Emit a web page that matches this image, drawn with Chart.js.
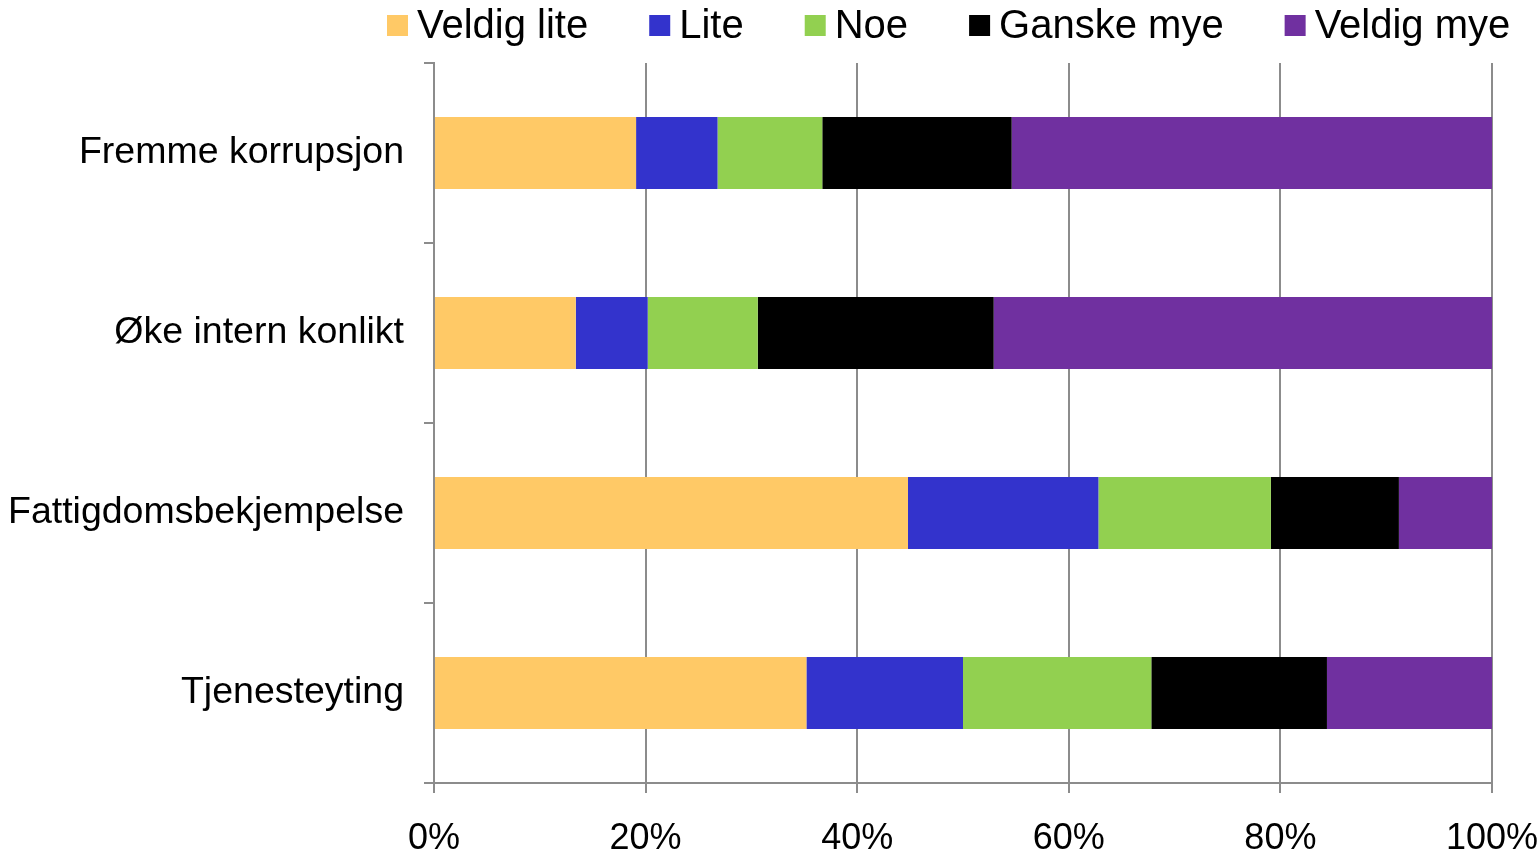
<!DOCTYPE html>
<html lang="no">
  <head>
    <meta charset="UTF-8" />
    <title>Stablet stolpediagram</title>
    <script src="https://cdn.jsdelivr.net/npm/chart.js"></script>
    <style>
      html, body { margin: 0; padding: 0; background: #ffffff; overflow: hidden; }
      #wrap { width: 1540px; height: 858px; position: relative; }
    </style>
  </head>
  <body>
    <div id="wrap"><canvas id="chart" width="1540" height="858"></canvas></div>
    <script>
      // data (percent of respondents)
      const categories = ["Fremme korrupsjon", "Øke intern konlikt", "Fattigdomsbekjempelse", "Tjenesteyting"];
      const seriesNames = ["Veldig lite", "Lite", "Noe", "Ganske mye", "Veldig mye"];
      const veldigLite = [19.1, 13.4, 44.8, 35.2];
      const lite = [7.7, 6.8, 18.0, 14.8];
      const noe = [9.9, 10.4, 16.3, 17.8];
      const ganskeMye = [17.9, 22.3, 12.1, 16.6];
      const veldigMye = [45.4, 47.1, 8.8, 15.6];
      const xTicks = [0, 20, 40, 60, 80, 100];

      const colors = ["#FFC966", "#3333CC", "#92D050", "#000000", "#7030A0"];
      const FONT = "'Liberation Sans', Arial, sans-serif";
      const GRID = "#8c8c8c";

      const values = [veldigLite, lite, noe, ganskeMye, veldigMye];

      // legend drawn by hand, spaced like the original
      const topLegend = {
        id: "topLegend",
        afterDraw(chart) {
          const ctx = chart.ctx;
          ctx.save();
          ctx.font = "40px " + FONT;
          ctx.textBaseline = "middle";
          ctx.textAlign = "left";
          let x = 387;
          seriesNames.forEach((name, i) => {
            ctx.fillStyle = colors[i];
            ctx.fillRect(x, 15, 21, 21);
            ctx.fillStyle = "#000";
            ctx.fillText(name, x + 30, 27);
            x += 30 + ctx.measureText(name).width + 61;
          });
          ctx.restore();
        },
      };

      new Chart(document.getElementById("chart"), {
        type: "bar",
        data: {
          labels: categories,
          datasets: seriesNames.map((name, i) => ({
            label: name,
            data: values[i],
            backgroundColor: colors[i],
            borderWidth: 0,
            barPercentage: 0.4,
            categoryPercentage: 1,
          })),
        },
        options: {
          indexAxis: "y",
          responsive: false,
          animation: false,
          layout: { padding: { top: 63, right: 48, left: 0, bottom: 0 } },
          plugins: { legend: { display: false }, tooltip: { enabled: false } },
          scales: {
            x: {
              stacked: true,
              min: 0,
              max: 100,
              afterBuildTicks: (s) => { s.ticks = xTicks.map((v) => ({ value: v })); },
              afterFit: (s) => { s.height = 75; s.paddingLeft = 0; s.paddingRight = 0; },
              grid: { color: GRID, lineWidth: 2, tickLength: 10 },
              border: { color: GRID, width: 2 },
              ticks: {
                color: "#000",
                font: { family: FONT, size: 36 },
                padding: 24,
                maxRotation: 0,
                callback: (v) => v + "%",
              },
            },
            y: {
              stacked: true,
              afterFit: (s) => { s.width = 434; s.paddingTop = 0; s.paddingBottom = 0; },
              grid: { drawOnChartArea: false, offset: true, color: GRID, lineWidth: 2, tickLength: 10 },
              border: { color: GRID, width: 2 },
              ticks: {
                color: "#000",
                font: { family: FONT, size: 37.5 },
                padding: 20,
              },
            },
          },
        },
        plugins: [topLegend],
      });
    </script>
  </body>
</html>
